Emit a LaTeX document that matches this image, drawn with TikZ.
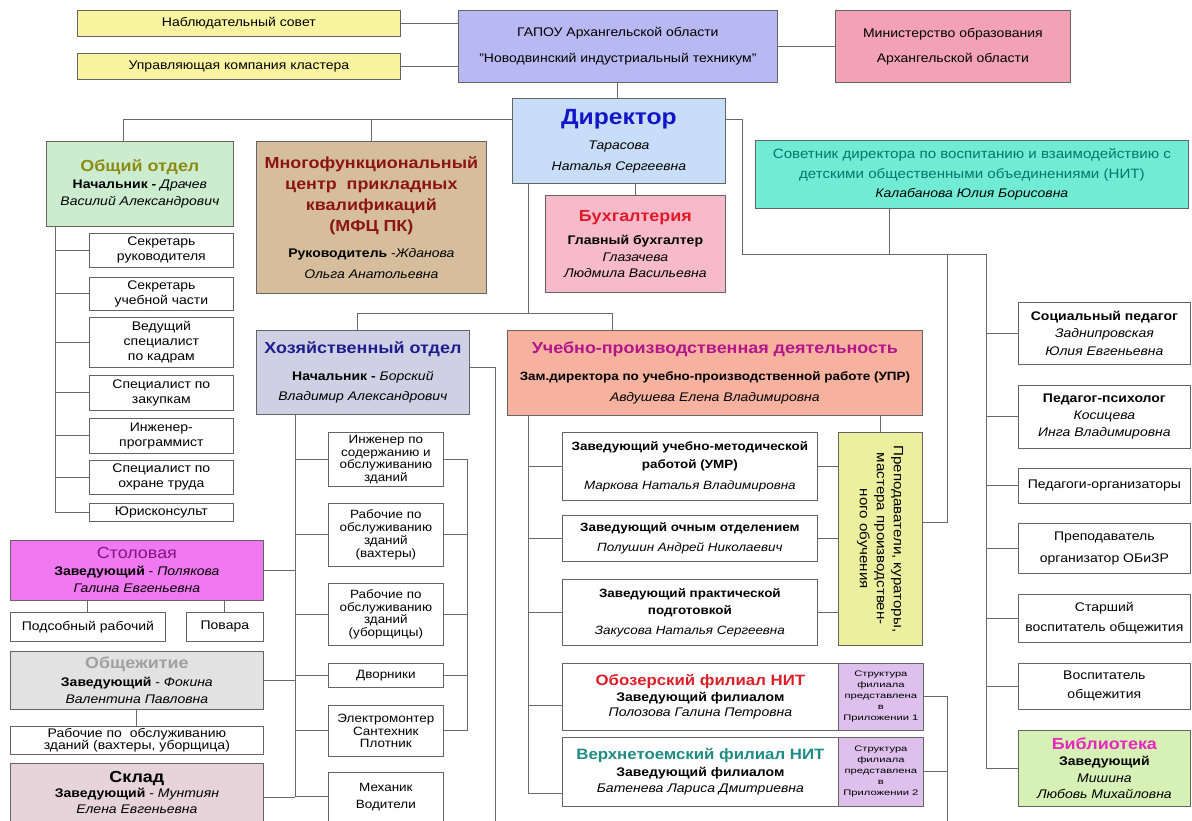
\documentclass[tikz,border=0pt]{standalone}
\usepackage{fontspec}
\usepackage{graphicx}
\setmainfont[FakeStretch=1.12]{Liberation Sans}
\newfontfamily\widefont[FakeStretch=1.4]{Liberation Sans}
\newcommand\fs[2]{\fontsize{#1}{#2}\selectfont}
\definecolor{cYel}{RGB}{248,244,160}
\definecolor{cGap}{RGB}{184,184,242}
\definecolor{cMin}{RGB}{242,162,180}
\definecolor{cDir}{RGB}{200,222,248}
\definecolor{cDirT}{RGB}{20,20,200}
\definecolor{cObsh}{RGB}{204,236,208}
\definecolor{cObshT}{RGB}{140,140,20}
\definecolor{cMfc}{RGB}{214,190,156}
\definecolor{cMfcT}{RGB}{140,20,20}
\definecolor{cBuh}{RGB}{246,186,202}
\definecolor{cBuhT}{RGB}{225,25,40}
\definecolor{cSov}{RGB}{112,236,212}
\definecolor{cSovT}{RGB}{0,120,110}
\definecolor{cHoz}{RGB}{208,208,228}
\definecolor{cHozT}{RGB}{30,30,140}
\definecolor{cUpd}{RGB}{246,178,158}
\definecolor{cUpdT}{RGB}{180,20,140}
\definecolor{cPrep}{RGB}{236,240,158}
\definecolor{cStr}{RGB}{222,192,236}
\definecolor{cOboT}{RGB}{220,30,40}
\definecolor{cVerT}{RGB}{30,140,130}
\definecolor{cStol}{RGB}{240,120,240}
\definecolor{cStolT}{RGB}{130,20,130}
\definecolor{cObzh}{RGB}{226,226,226}
\definecolor{cObzhT}{RGB}{160,160,160}
\definecolor{cSklad}{RGB}{230,212,218}
\definecolor{cBib}{RGB}{214,240,182}
\definecolor{cBibT}{RGB}{230,40,190}
\definecolor{cLine}{RGB}{105,105,105}
\definecolor{cEdge}{RGB}{100,100,100}
\newcommand\ttl[2]{{\color{#1}\fs{16}{18}\bfseries #2}}
\newcommand\ttlr[2]{{\color{#1}\fs{15}{17}\bfseries #2}}
\begin{document}
\begin{tikzpicture}[x=1pt,y=-1pt,
  box/.style={draw=cEdge, line width=0.75pt, align=center, inner sep=1pt,
              anchor=north west, text=black, font=\fs{12.5}{16}},
  conn/.style={draw=cLine, line width=0.8pt}]
\fill[white] (0,0) rectangle (1192,821);
\useasboundingbox (0,0) rectangle (1192,821);

% ---------- top ----------
\node[box, fill=cYel, minimum width=323pt, minimum height=26pt] (nab) at (77,10) {Наблюдательный совет};
\node[box, fill=cYel, minimum width=323pt, minimum height=26pt] (upr) at (77,53) {Управляющая компания кластера};
\node[box, fill=cGap, minimum width=319pt, minimum height=72pt] (gapou) at (458,10)
  {ГАПОУ Архангельской области\\[10pt]"Новодвинский индустриальный техникум"};
\node[box, fill=cMin, minimum width=235pt, minimum height=72pt] (min) at (835,10)
  {Министерство образования\\[9pt]Архангельской области};
\node[box, fill=cDir, minimum width=213pt, minimum height=85pt, font=\fs{12.5}{21}] (dir) at (512,98)
  {{\color{cDirT}\fs{22}{24}\bfseries Директор}\\[4pt]{\itshape Тарасова}\\{\itshape Наталья Сергеевна}};

% ---------- second row ----------
\node[box, fill=cObsh, minimum width=187pt, minimum height=85pt, font=\fs{12.5}{17}] (obsh) at (46,141)
  {\ttl{cObshT}{Общий отдел}\\{\bfseries Начальник -} {\itshape Драчев}\\{\itshape Василий Александрович}};
\node[box, fill=cMfc, minimum width=230pt, minimum height=152pt, font=\fs{12.5}{21}] (mfc) at (256,141)
  {\ttl{cMfcT}{Многофункциональный}\\\ttl{cMfcT}{центр\ \ прикладных}\\\ttl{cMfcT}{квалификаций}\\\ttl{cMfcT}{(МФЦ ПК)}\\[5pt]{\bfseries Руководитель} -{\itshape Жданова}\\{\itshape Ольга Анатольевна}};
\node[box, fill=cBuh, minimum width=180pt, minimum height=97pt, font=\fs{12.5}{16.5}] (buh) at (545,195)
  {\ttl{cBuhT}{Бухгалтерия}\\[7pt]{\bfseries Главный бухгалтер}\\{\itshape Глазачева}\\{\itshape Людмила Васильевна}};
\node[box, fill=cSov, minimum width=433pt, minimum height=68pt, font=\fs{13.5}{19.5}] (sov) at (755,140)
  {{\color{cSovT}Советник директора по воспитанию и взаимодействию с}\\{\color{cSovT}детскими общественными объединениями (НИТ)}\\{\fs{12.5}{19.5}\itshape Калабанова Юлия Борисовна}};

% ---------- general department subunits ----------
\node[box, minimum width=144pt, minimum height=34pt, font=\fs{12.5}{15}] (s1) at (89,233) {Секретарь\\руководителя};
\node[box, minimum width=144pt, minimum height=33pt, font=\fs{12.5}{15}] (s2) at (89,277) {Секретарь\\учебной части};
\node[box, minimum width=144pt, minimum height=50pt, font=\fs{12.5}{15}] (s3) at (89,317) {Ведущий\\специалист\\по кадрам};
\node[box, minimum width=144pt, minimum height=35pt, font=\fs{12.5}{15}] (s4) at (89,375) {Специалист по\\закупкам};
\node[box, minimum width=144pt, minimum height=35pt, font=\fs{12.5}{15}] (s5) at (89,418) {Инженер-\\программист};
\node[box, minimum width=144pt, minimum height=34pt, font=\fs{12.5}{15}] (s6) at (89,460) {Специалист по\\охране труда};
\node[box, minimum width=144pt, minimum height=18pt, font=\fs{12.5}{15}] (s7) at (89,503) {Юрисконсульт};

% ---------- left bottom ----------
\node[box, fill=cStol, minimum width=253pt, minimum height=60pt, font=\fs{12.5}{17}] (stol) at (10,540)
  {{\color{cStolT}\fs{16}{18}Столовая}\\{\bfseries Заведующий} - {\itshape Полякова}\\{\itshape Галина Евгеньевна}};
\node[box, minimum width=155pt, minimum height=29pt] (podsob) at (10,612) {Подсобный рабочий};
\node[box, minimum width=77pt, minimum height=29pt] (povar) at (186,612) {Повара};
\node[box, fill=cObzh, minimum width=253pt, minimum height=58pt, font=\fs{12.5}{17}] (obzh) at (10,651)
  {\ttl{cObzhT}{Общежитие}\\[1pt]{\bfseries Заведующий} - {\itshape Фокина}\\{\itshape Валентина Павловна}};
\node[box, minimum width=253pt, minimum height=28pt, font=\fs{12.5}{12.5}] (rab) at (10,726)
  {Рабочие по\ \ обслуживанию\\зданий (вахтеры, уборщица)};
\node[box, fill=cSklad, minimum width=253pt, minimum height=58pt, font=\fs{12.5}{15.5}] (sklad) at (10,763)
  {\ttl{black}{Склад}\\{\bfseries Заведующий} - {\itshape Мунтиян}\\{\itshape Елена Евгеньевна}};

% ---------- economic department ----------
\node[box, fill=cHoz, minimum width=213pt, minimum height=84pt, font=\fs{12.5}{20}] (hoz) at (256,330)
  {\ttl{cHozT}{Хозяйственный отдел}\\[7pt]{\bfseries Начальник -} {\itshape Борский}\\{\itshape Владимир Александрович}};
\node[box, minimum width=115pt, minimum height=54pt, font=\fs{12}{12.5}] (h1) at (328,432) {Инженер по\\содержанию и\\обслуживанию\\зданий};
\node[box, minimum width=115pt, minimum height=63pt, font=\fs{12}{12.7}] (h2) at (328,503) {Рабочие по\\обслуживанию\\зданий\\(вахтеры)};
\node[box, minimum width=115pt, minimum height=62pt, font=\fs{12}{12.7}] (h3) at (328,583) {Рабочие по\\обслуживанию\\зданий\\(уборщицы)};
\node[box, minimum width=115pt, minimum height=24pt, font=\fs{12}{12.5}] (h4) at (328,663) {Дворники};
\node[box, minimum width=115pt, minimum height=51pt, font=\fs{12}{12.5}] (h5) at (328,705) {Электромонтер\\Сантехник\\Плотник};
\node[box, minimum width=115pt, minimum height=49pt, font=\fs{12}{17}] (h6) at (328,772) {Механик\\Водители};

% ---------- educational activity ----------
\node[box, fill=cUpd, minimum width=415pt, minimum height=85pt, font=\fs{12.5}{21}] (upd) at (507,330)
  {\ttl{cUpdT}{Учебно-производственная деятельность}\\[6pt]{\fs{12}{21}\bfseries Зам.директора по учебно-производственной работе (УПР)}\\{\itshape Авдушева Елена Владимировна}};
\node[box, minimum width=255pt, minimum height=68pt, font=\fs{12}{18}] (z1) at (562,432)
  {{\bfseries Заведующий учебно-методической}\\{\bfseries работой (УМР)}\\[3pt]{\itshape Маркова Наталья Владимировна}};
\node[box, minimum width=255pt, minimum height=46pt, font=\fs{12}{20}] (z2) at (562,515)
  {{\bfseries Заведующий очным отделением}\\{\itshape Полушин Андрей Николаевич}};
\node[box, minimum width=255pt, minimum height=66pt, font=\fs{12}{17}] (z3) at (562,579)
  {{\bfseries Заведующий практической}\\{\bfseries подготовкой}\\[3pt]{\itshape Закусова Наталья Сергеевна}};
\node[box, fill=cPrep, minimum width=84pt, minimum height=213pt, font=\fs{13.5}{17}] (prep) at (838,432)
  {\rotatebox{-90}{\begin{tabular}{@{}c@{}}Преподаватели, кураторы,\\мастера производствен-\\ного обучения\end{tabular}}};

\node[box, minimum width=276pt, minimum height=67pt, font=\fs{12.5}{15.5}] (obo) at (562,663)
  {\ttlr{cOboT}{Обозерский филиал НИТ}\\{\bfseries Заведующий филиалом}\\{\itshape Полозова Галина Петровна}};
\node[box, fill=cStr, minimum width=85pt, minimum height=67pt, font=\widefont\fs{8}{11}] (oboS) at (838,663)
  {Структура\\филиала\\представлена\\в\\Приложении 1};
\node[box, minimum width=276pt, minimum height=69pt, font=\fs{12.5}{16.5}] (ver) at (562,737)
  {\ttlr{cVerT}{Верхнетоемский филиал НИТ}\\{\bfseries Заведующий филиалом}\\{\itshape Батенева Лариса Дмитриевна}};
\node[box, fill=cStr, minimum width=85pt, minimum height=69pt, font=\widefont\fs{8}{11}] (verS) at (838,737)
  {Структура\\филиала\\представлена\\в\\Приложении 2};

% ---------- right column ----------
\node[box, minimum width=172pt, minimum height=62pt, font=\fs{12.5}{17.5}] (r1) at (1018,302)
  {{\bfseries Социальный педагог}\\{\itshape Заднипровская}\\{\itshape Юлия Евгеньевна}};
\node[box, minimum width=172pt, minimum height=63pt, font=\fs{12.5}{17}] (r2) at (1018,385)
  {{\bfseries Педагог-психолог}\\{\itshape Косицева}\\{\itshape Инга Владимировна}};
\node[box, minimum width=172pt, minimum height=35pt] (r3) at (1018,468) {Педагоги-организаторы};
\node[box, minimum width=172pt, minimum height=50pt, font=\fs{12.5}{22}] (r4) at (1018,523) {Преподаватель\\организатор ОБиЗР};
\node[box, minimum width=172pt, minimum height=48pt, font=\fs{12.5}{20}] (r5) at (1018,594) {Старший\\воспитатель общежития};
\node[box, minimum width=172pt, minimum height=46pt, font=\fs{12.5}{19}] (r6) at (1018,663) {Воспитатель\\общежития};
\node[box, fill=cBib, minimum width=172pt, minimum height=76pt, font=\fs{12.5}{16.5}] (bib) at (1018,730)
  {\ttl{cBibT}{Библиотека}\\{\bfseries Заведующий}\\{\itshape Мишина}\\{\itshape Любовь Михайловна}};

% ---------- junction points ----------
\coordinate (cTopL) at (123,119);
\coordinate (cTopR) at (742,119);
\coordinate (cJ) at (742,254);
\coordinate (cT1) at (947,254);
\coordinate (cT2) at (986,254);
\coordinate (cSovJ) at (889,254);
\coordinate (cHb) at (528,313);
\coordinate (cHbL) at (357,313);
\coordinate (cHbR) at (612,313);
\coordinate (cObshX) at (55,0);
\coordinate (cHozX) at (295,0);
\coordinate (cHozBr) at (467,0);
\coordinate (cHozR) at (495,821);
\coordinate (cUpdX) at (528,0);
\coordinate (cFilX) at (947,821);
\coordinate (oboL) at ([yshift=-8.5pt]obo.west);
\coordinate (verL) at ([yshift=-21.5pt]ver.west);
\coordinate (prepR) at ([yshift=16.5pt]prep.east);
\coordinate (hozR) at ([yshift=5pt]hoz.east);
\coordinate (skladR) at ([yshift=-5pt]sklad.east);

% ---------- connectors ----------
\draw[conn] (nab.east) -- (nab.east -| gapou.west);
\draw[conn] (upr.east) -- (upr.east -| gapou.west);
\draw[conn] (gapou.east) -- (gapou.east -| min.west);
\draw[conn] (gapou.south) -- (gapou.south |- dir.north);
\draw[conn] (dir.west |- cTopL) -- (cTopL) -- (cTopL |- obsh.north);
\draw[conn] (mfc.north |- cTopL) -- (mfc.north);
\draw[conn] (dir.east |- cTopR) -- (cTopR) -- (cJ) -- (cT2);
\draw[conn] (sov.south -| cSovJ) -- (cSovJ);
\draw[conn] (cT1) |- (prepR);
\draw[conn] (cT2) |- (bib.west);
\foreach \n in {r1,r2,r3,r4,r5,r6} \draw[conn] (cT2 |- \n.west) -- (\n.west);
\draw[conn] (buh.north |- dir.south) -- (buh.north);
\draw[conn] (cHb |- dir.south) -- (cHb);
\draw[conn] (cHbL |- hoz.north) -- (cHbL) -- (cHbR) -- (cHbR |- upd.north);

\draw[conn] (obsh.south -| cObshX) |- (s7.west);
\foreach \n in {s1,s2,s3,s4,s5,s6} \draw[conn] (cObshX |- \n.west) -- (\n.west);

\draw[conn] (hoz.south -| cHozX) |- (h6.west);
\foreach \n in {h1,h2,h3,h4,h5} \draw[conn] (cHozX |- \n.west) -- (\n.west);
\draw[conn] (cHozX |- stol.east) -- (stol.east);
\draw[conn] (cHozX |- obzh.east) -- (obzh.east);
\draw[conn] (cHozX |- skladR) -- (skladR);
\draw[conn] (cHozBr |- h1.east) -- (cHozBr |- h5.east);
\foreach \n in {h1,h2,h3,h4,h5} \draw[conn] (\n.east) -- (cHozBr |- \n.east);
\draw[conn] (hozR) -| (cHozR);

\draw[conn] (stol.south -| podsob.north) -- (podsob.north);
\draw[conn] (stol.south -| povar.north) -- (povar.north);
\draw[conn] (obzh.south -| rab.north) -- (rab.north);

\draw[conn] (upd.south -| cUpdX) |- (verL);
\foreach \n in {z1,z2,z3} \draw[conn] (cUpdX |- \n.west) -- (\n.west);
\draw[conn] (cUpdX |- oboL) -- (oboL);
\draw[conn] (upd.south -| prep.north) -- (prep.north);
\foreach \n in {z1,z2,z3} \draw[conn] (\n.east) -- (\n.east -| prep.west);
\draw[conn] (oboS.east) -- (oboS.east -| cFilX) -- (cFilX);
\draw[conn] (verS.east) -- (verS.east -| cFilX);
\end{tikzpicture}
\end{document}
